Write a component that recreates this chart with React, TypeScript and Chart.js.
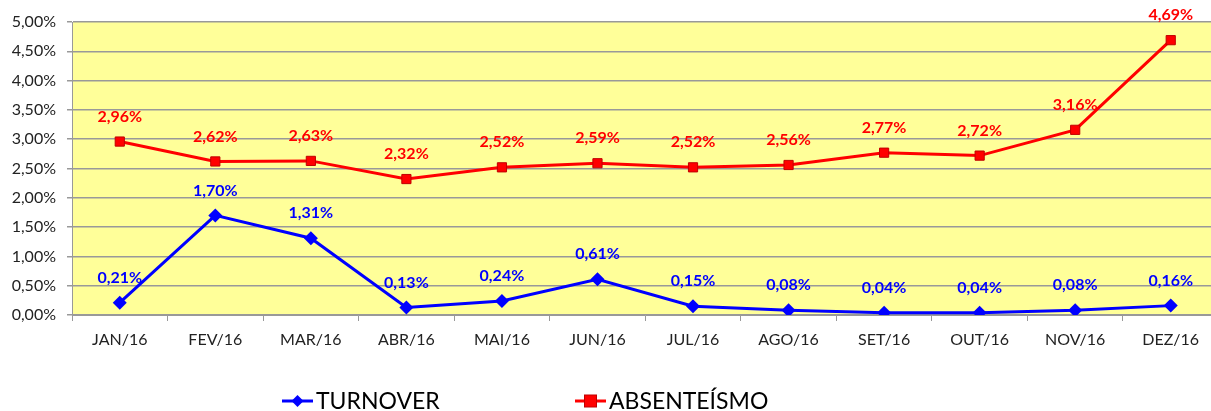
import React, { useEffect, useRef } from "react";
import { Chart, registerables } from "chart.js";

Chart.register(...registerables);

const categories = ["JAN/16", "FEV/16", "MAR/16", "ABR/16", "MAI/16", "JUN/16", "JUL/16", "AGO/16", "SET/16", "OUT/16", "NOV/16", "DEZ/16"];
const turnover = [0.21, 1.7, 1.31, 0.13, 0.24, 0.61, 0.15, 0.08, 0.04, 0.04, 0.08, 0.16];
const absenteismo = [2.96, 2.62, 2.63, 2.32, 2.52, 2.59, 2.52, 2.56, 2.77, 2.72, 3.16, 4.69];
const seriesNames = ["TURNOVER", "ABSENTEÍSMO"];

const FONT = "Lato, 'Open Sans', sans-serif";
const fmt = (v: number) => v.toFixed(2).replace(".", ",") + "%";

const bgPlugin = {
  id: "bgPlugin",
  beforeDraw(chart: any) {
    const { ctx, chartArea } = chart;
    ctx.save();
    ctx.fillStyle = "#FFFF99";
    ctx.fillRect(chartArea.left, chartArea.top, chartArea.right - chartArea.left, chartArea.bottom - chartArea.top);
    ctx.restore();
  },
};

const labelPlugin = {
  id: "labelPlugin",
  afterDatasetsDraw(chart: any) {
    const { ctx } = chart;
    ctx.save();
    ctx.font = `bold 16px ${FONT}`;
    ctx.textAlign = "center";
    ctx.textBaseline = "middle";
    chart.data.datasets.forEach((ds: any, i: number) => {
      const meta = chart.getDatasetMeta(i);
      ctx.fillStyle = ds.borderColor;
      meta.data.forEach((pt: any, j: number) => {
        ctx.fillText(fmt(ds.data[j]), pt.x, pt.y - 25);
      });
    });
    ctx.restore();
  },
};

const legendPlugin = {
  id: "customLegend",
  afterDraw(chart: any) {
    const { ctx } = chart;
    const items = [
      { x: 282, color: "#0000FF", shape: "diamond" },
      { x: 575, color: "#FF0000", shape: "square" },
    ];
    const y = 401;
    ctx.save();
    items.forEach((it, i) => {
      ctx.strokeStyle = it.color;
      ctx.lineWidth = 3;
      ctx.beginPath();
      ctx.moveTo(it.x, y);
      ctx.lineTo(it.x + 31, y);
      ctx.stroke();
      ctx.fillStyle = it.color;
      const cx = it.x + 15.5;
      if (it.shape === "diamond") {
        ctx.beginPath();
        ctx.moveTo(cx, y - 6);
        ctx.lineTo(cx + 6, y);
        ctx.lineTo(cx, y + 6);
        ctx.lineTo(cx - 6, y);
        ctx.closePath();
        ctx.fill();
      } else {
        ctx.fillRect(cx - 6, y - 6, 12, 12);
        ctx.strokeStyle = "#C00000";
        ctx.lineWidth = 1;
        ctx.strokeRect(cx - 6, y - 6, 12, 12);
      }
      ctx.fillStyle = "#000000";
      ctx.font = `23px ${FONT}`;
      ctx.textAlign = "left";
      ctx.textBaseline = "middle";
      ctx.fillText(seriesNames[i], it.x + 34, y + 1);
    });
    ctx.restore();
  },
};

export default function App() {
  const ref = useRef<HTMLCanvasElement>(null);
  useEffect(() => {
    if (!ref.current) return;
    const chart = new Chart(ref.current, {
      type: "line",
      data: {
        labels: categories,
        datasets: [
          {
            label: seriesNames[0],
            data: turnover,
            borderColor: "#0000FF",
            backgroundColor: "#0000FF",
            borderWidth: 3,
            pointStyle: "rectRot",
            pointRadius: 7,
            pointBorderWidth: 0,
            tension: 0,
          },
          {
            label: seriesNames[1],
            data: absenteismo,
            borderColor: "#FF0000",
            backgroundColor: "#FF0000",
            pointBorderColor: "#C00000",
            borderWidth: 3,
            pointStyle: "rect",
            pointRadius: 6.5,
            pointBorderWidth: 1,
            tension: 0,
          },
        ],
      },
      options: {
        animation: false,
        responsive: false,
        maintainAspectRatio: false,
        layout: { padding: { top: 22, right: 0, left: 0, bottom: 0 } },
        plugins: { legend: { display: false }, tooltip: { enabled: false } },
        scales: {
          x: {
            offset: true,
            grid: { offset: true, drawOnChartArea: false, drawTicks: true, tickLength: 6, color: "#999999" },
            border: { color: "#999999" },
            ticks: { color: "#222222", font: { family: FONT, size: 16 }, padding: 9, maxRotation: 0 },
            afterFit(scale: any) {
              scale.height = 96;
            },
          },
          y: {
            min: 0,
            max: 5,
            ticks: {
              stepSize: 0.5,
              color: "#222222",
              font: { family: FONT, size: 16 },
              padding: 11,
              callback: (v: any) => fmt(Number(v)),
            },
            grid: { color: "#999999", tickLength: 5, lineWidth: 1.5 },
            border: { color: "#999999" },
            afterFit(scale: any) {
              scale.width = 72;
            },
          },
        },
      },
      plugins: [bgPlugin, labelPlugin, legendPlugin],
    });
    return () => chart.destroy();
  }, []);
  return (
    <div style={{ position: "absolute", left: 0, top: 0, width: 1211, height: 411, overflow: "hidden", background: "#fff" }}>
      <canvas ref={ref} width={1226} height={411} style={{ width: 1226, height: 411, display: "block" }} />
    </div>
  );
}
